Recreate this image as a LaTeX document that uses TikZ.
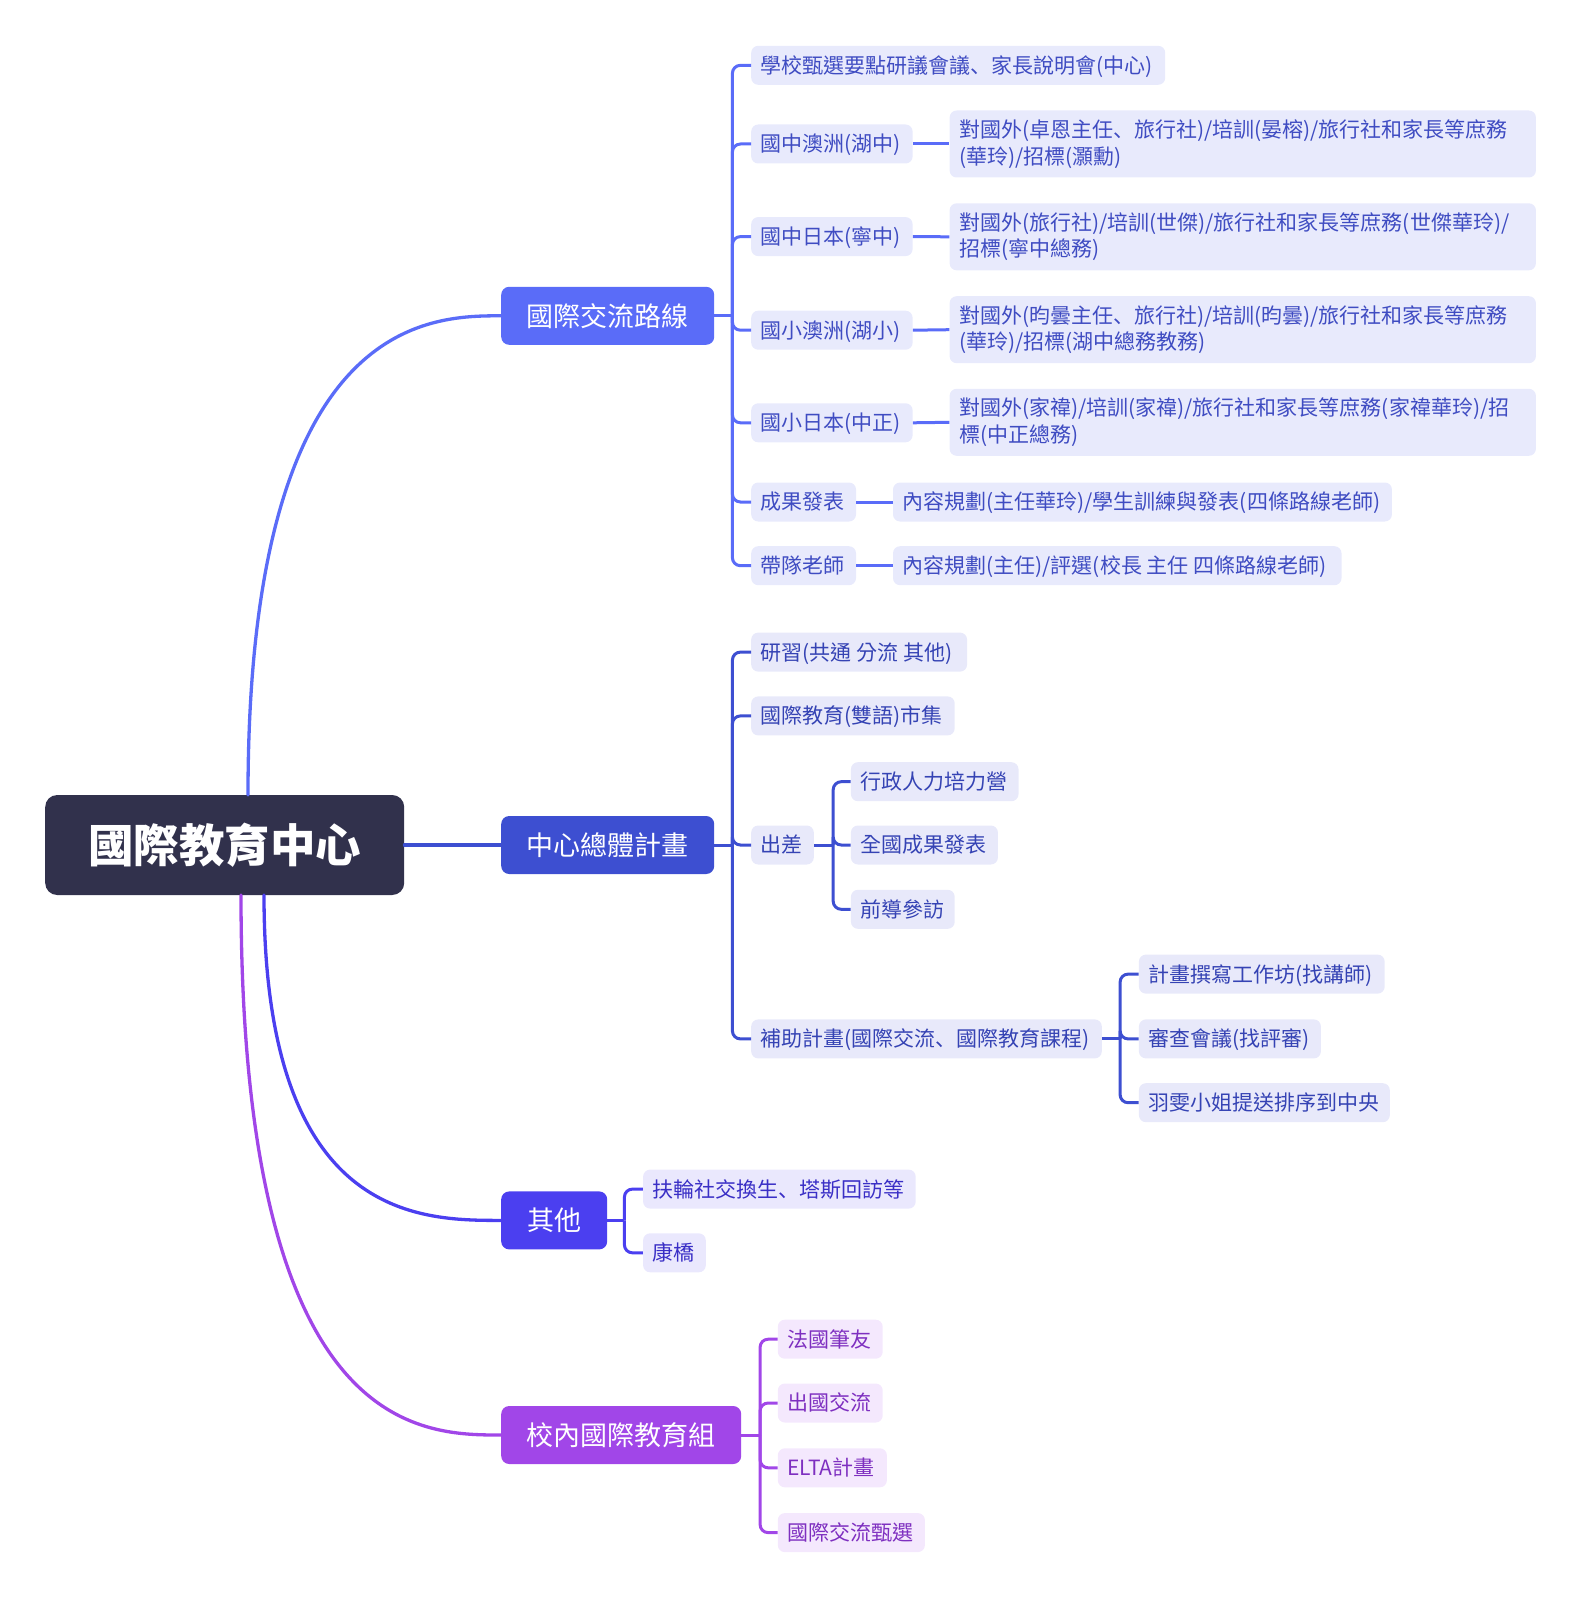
\documentclass[tikz,border=0pt]{standalone}
\usepackage{fontspec}
\setmainfont{Noto Sans CJK TC}
\newfontfamily\jpfont{Noto Sans CJK JP}
\newcommand{\dun}{{\jpfont 、}}
\definecolor{cRoot}{HTML}{31314C}
\definecolor{cA}{HTML}{5A6CF8}
\definecolor{cB}{HTML}{3D4FD1}
\definecolor{cC}{HTML}{4B3FF0}
\definecolor{cD}{HTML}{A146E8}
\definecolor{fA}{HTML}{E8EAFC}
\definecolor{fB}{HTML}{E8E9FA}
\definecolor{fC}{HTML}{EAE8FD}
\definecolor{fD}{HTML}{F4E8FD}
\definecolor{tA}{HTML}{3F4CC2}
\definecolor{tB}{HTML}{3543B4}
\definecolor{tC}{HTML}{3A2FC6}
\definecolor{tD}{HTML}{7E2FC0}
\newcommand{\leafbox}[2]{\makebox[#1pt][l]{#2}}
\tikzset{
  rootbox/.style={anchor=west, minimum width=359pt, minimum height=100pt, fill=cRoot, text=white,
    rounded corners=12pt, inner sep=0pt, font=\fontsize{45.5}{54}\selectfont\bfseries,
    text height=40pt, text depth=5.5pt},
  mainbox/.style={anchor=west, minimum height=58pt, rounded corners=8pt, text=white, inner sep=0pt,
    font=\fontsize{27}{32}\selectfont, text height=23.7pt, text depth=3.3pt},
  leafbase/.style={anchor=west, rounded corners=7pt, inner xsep=9.5pt, inner ysep=0pt,
    font=\fontsize{21}{26.7}\selectfont},
  leaf/.style={leafbase, minimum height=39pt, text height=18.4pt, text depth=2.6pt},
  twoline/.style={leafbase, minimum height=67pt, align=left},
  leafA/.style={leaf, fill=fA, text=tA},
  leafB/.style={leaf, fill=fB, text=tB},
  leafC/.style={leaf, fill=fC, text=tC},
  leafD/.style={leaf, fill=fD, text=tD},
  twoA/.style={twoline, fill=fA, text=tA},
  rootln/.style={line width=3.3pt, line cap=round},
  ln/.style={line width=3pt, rounded corners=8pt},
}
\begin{document}
\begin{tikzpicture}[x=1pt,y=-1pt]
\useasboundingbox (0,0) rectangle (1582,1613);

% root and main branches
\node[rootbox] (root) at (45,845) {國際教育中心};
\node[mainbox, fill=cA, minimum width=213pt] (A) at (501,315.8) {國際交流路線};
\node[mainbox, fill=cB, minimum width=213pt] (B) at (501,845) {中心總體計畫};
\node[mainbox, fill=cC, minimum width=106pt] (C) at (501,1220.4) {其他};
\node[mainbox, fill=cD, minimum width=240pt] (D) at (501,1435) {校內國際教育組};

\coordinate (rA) at (248,795);
\coordinate (rC) at (264,895);
\coordinate (rD) at (241,895);
\draw[rootln, cA] (rA) .. controls (248,315.8) and (430,315.8) .. (A.west);
\draw[rootln, cB] (root.east) -- (B.west);
\draw[rootln, cC] (rC) .. controls (264,1220.4) and (420,1220.4) .. (C.west);
\draw[rootln, cD] (rD) .. controls (241,1435) and (420,1435) .. (D.west);

% branch A
\node[leafA] (a1) at (751,65.3) {\leafbox{395}{學校甄選要點研議會議\dun 家長說明會(中心)}};
\node[leafA] (a2) at (751,144) {\leafbox{142.4}{國中澳洲(湖中)}};
\node[leafA] (a3) at (751,236.6) {\leafbox{142.4}{國中日本(寧中)}};
\node[leafA] (a4) at (751,330.2) {\leafbox{142.4}{國小澳洲(湖小)}};
\node[leafA] (a5) at (751,422.8) {\leafbox{142.4}{國小日本(中正)}};
\node[leafA] (a6) at (751,502) {\leafbox{85.8}{成果發表}};
\node[leafA] (a7) at (751,565.7) {\leafbox{85.8}{帶隊老師}};
\node[twoA, text width=567.3pt] (a2c) at (949.4,144) {對國外(卓恩主任\dun 旅行社)/培訓(晏榕)/旅行社和家長等庶務\\(華玲)/招標(灝勳)};
\node[twoA, text width=567.3pt] (a3c) at (949.4,236.8) {對國外(旅行社)/培訓(世傑)/旅行社和家長等庶務(世傑華玲)/\\招標(寧中總務)};
\node[twoA, text width=567.3pt] (a4c) at (949.4,329.7) {對國外(昀曇主任\dun 旅行社)/培訓(昀曇)/旅行社和家長等庶務\\(華玲)/招標(湖中總務教務)};
\node[twoA, text width=567.3pt] (a5c) at (949.4,422.3) {對國外(家禕)/培訓(家禕)/旅行社和家長等庶務(家禕華玲)/招\\標(中正總務)};
\node[leafA] (a6c) at (892.8,502) {\leafbox{479.9}{內容規劃(主任華玲)/學生訓練與發表(四條路線老師)}};
\node[leafA] (a7c) at (892.8,565.7) {\leafbox{429.5}{內容規劃(主任)/評選(校長 主任 四條路線老師)}};

\coordinate (Ab) at (732.4,315.8);
\draw[ln, cA] (A.east) -- (Ab);
\foreach \n in {a1,a2,a3,a4,a5,a6,a7} \draw[ln, cA] (Ab) |- (\n.west);
\foreach \n in {a2,a3,a4,a5,a6,a7} \draw[ln, cA] (\n.east) -- (\n c.west);

% branch B
\node[leafB] (b1) at (751,652.1) {\leafbox{196.9}{研習(共通 分流 其他)}};
\node[leafB] (b2) at (751,715.9) {\leafbox{184.5}{國際教育(雙語)市集}};
\node[leafB] (b3) at (751,845) {\leafbox{43.6}{出差}};
\node[leafB] (b31) at (850.7,781.7) {\leafbox{148.6}{行政人力培力營}};
\node[leafB] (b32) at (850.7,845) {\leafbox{128}{全國成果發表}};
\node[leafB] (b33) at (850.7,909.3) {\leafbox{84.8}{前導參訪}};
\node[leafB] (b4) at (751,1038.9) {\leafbox{331.6}{補助計畫(國際交流\dun 國際教育課程)}};
\node[leafB] (b41) at (1138.7,974.1) {\leafbox{226.8}{計畫撰寫工作坊(找講師)}};
\node[leafB] (b42) at (1138.7,1038.9) {\leafbox{163}{審查會議(找評審)}};
\node[leafB] (b43) at (1138.7,1102.7) {\leafbox{231.9}{羽雯小姐提送排序到中央}};

\coordinate (Bb) at (732.4,845);
\draw[ln, cB] (B.east) -- (Bb);
\foreach \n in {b1,b2,b3,b4} \draw[ln, cB] (Bb) |- (\n.west);
\coordinate (B3b) at (833.2,845);
\draw[ln, cB] (b3.east) -- (B3b);
\foreach \n in {b31,b32,b33} \draw[ln, cB] (B3b) |- (\n.west);
\coordinate (B4b) at (1120.1,1038.9);
\draw[ln, cB] (b4.east) -- (B4b);
\foreach \n in {b41,b42,b43} \draw[ln, cB] (B4b) |- (\n.west);

% branch C
\node[leafC] (c1) at (642.9,1189.1) {\leafbox{253.6}{扶輪社交換生\dun 塔斯回訪等}};
\node[leafC] (c2) at (642.9,1252.8) {\leafbox{43.7}{康橋}};
\coordinate (Cb) at (624.4,1220.4);
\draw[ln, cC] (C.east) -- (Cb);
\foreach \n in {c1,c2} \draw[ln, cC] (Cb) |- (\n.west);

% branch D
\node[leafD] (d1) at (777.6,1339.2) {\leafbox{85.9}{法國筆友}};
\node[leafD] (d2) at (777.6,1403) {\leafbox{85.9}{出國交流}};
\node[leafD] (d3) at (777.6,1467.8) {\leafbox{90.1}{ELTA計畫}};
\node[leafD] (d4) at (777.6,1532.6) {\leafbox{128.1}{國際交流甄選}};
\coordinate (Db) at (760.1,1435);
\draw[ln, cD] (D.east) -- (Db);
\foreach \n in {d1,d2,d3,d4} \draw[ln, cD] (Db) |- (\n.west);
\end{tikzpicture}
\end{document}
